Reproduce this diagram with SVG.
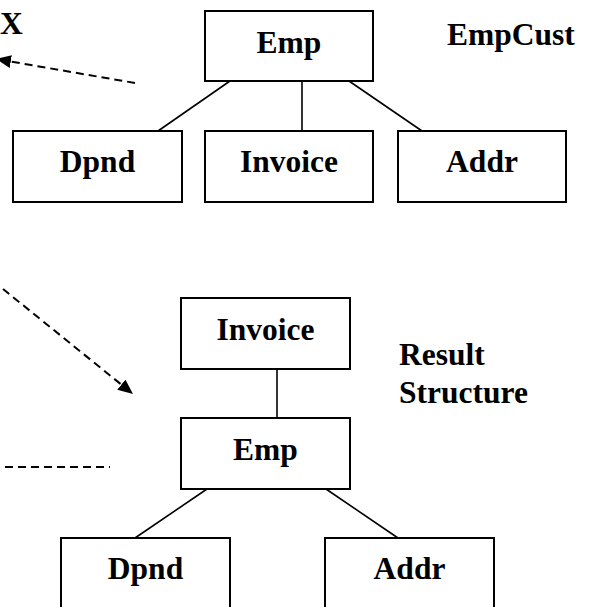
<svg xmlns="http://www.w3.org/2000/svg" width="590" height="607" viewBox="0 0 590 607">
  <style>
    .box { fill: #ffffff; stroke: #000000; stroke-width: 2; }
    .lbl { font-family: "Liberation Serif", "Times New Roman", serif; font-weight: bold; font-size: 31.5px; fill: #000000; }
    .mid { text-anchor: middle; }
    .edge { stroke: #000000; stroke-width: 1.6; fill: none; }
    .dash { stroke: #000000; stroke-width: 2; fill: none; stroke-dasharray: 8 5; }
  </style>
  <defs>
    <marker id="arrow" markerUnits="userSpaceOnUse" markerWidth="16" markerHeight="14" refX="15" refY="6.5" orient="auto">
      <path d="M0,0 L15,6.5 L0,13 Z" fill="#000000"/>
    </marker>
  </defs>
  <rect width="590" height="607" fill="#ffffff"/>

  <g id="connectors">
    <line class="edge" x1="230" y1="81" x2="158" y2="131"/>
    <line class="edge" x1="302" y1="81" x2="302" y2="131"/>
    <line class="edge" x1="349" y1="81" x2="422" y2="131"/>
    <line class="edge" x1="277" y1="369" x2="277" y2="418"/>
    <line class="edge" x1="207" y1="489" x2="135" y2="538"/>
    <line class="edge" x1="326" y1="489" x2="398" y2="538"/>
    <line class="dash" x1="135" y1="83" x2="-4" y2="59" marker-end="url(#arrow)"/>
    <line class="dash" x1="3" y1="289" x2="133" y2="394" marker-end="url(#arrow)"/>
    <line class="dash" x1="5" y1="467" x2="110" y2="467"/>
  </g>

  <g id="label-x"><text class="lbl" x="0" y="34">X</text></g>
  <g id="label-empcust"><text class="lbl" x="447" y="45">EmpCust</text></g>
  <g id="label-result"><text class="lbl" x="399" y="365">Result</text><text class="lbl" x="399" y="403">Structure</text></g>

  <g id="top-emp"><rect class="box" x="205" y="11" width="168" height="70"/><text class="lbl mid" x="289" y="53">Emp</text></g>
  <g id="top-dpnd"><rect class="box" x="13" y="131" width="169" height="71"/><text class="lbl mid" x="97.5" y="172">Dpnd</text></g>
  <g id="top-invoice"><rect class="box" x="205" y="131" width="168" height="71"/><text class="lbl mid" x="289" y="172">Invoice</text></g>
  <g id="top-addr"><rect class="box" x="398" y="131" width="168" height="71"/><text class="lbl mid" x="482" y="172">Addr</text></g>

  <g id="res-invoice"><rect class="box" x="181" y="298" width="169" height="71"/><text class="lbl mid" x="265.5" y="340">Invoice</text></g>
  <g id="res-emp"><rect class="box" x="181" y="418" width="169" height="71"/><text class="lbl mid" x="265.5" y="460">Emp</text></g>
  <g id="res-dpnd"><rect class="box" x="61" y="538" width="169" height="72"/><text class="lbl mid" x="145.5" y="579">Dpnd</text></g>
  <g id="res-addr"><rect class="box" x="325" y="538" width="169" height="72"/><text class="lbl mid" x="409.5" y="579">Addr</text></g>
</svg>
